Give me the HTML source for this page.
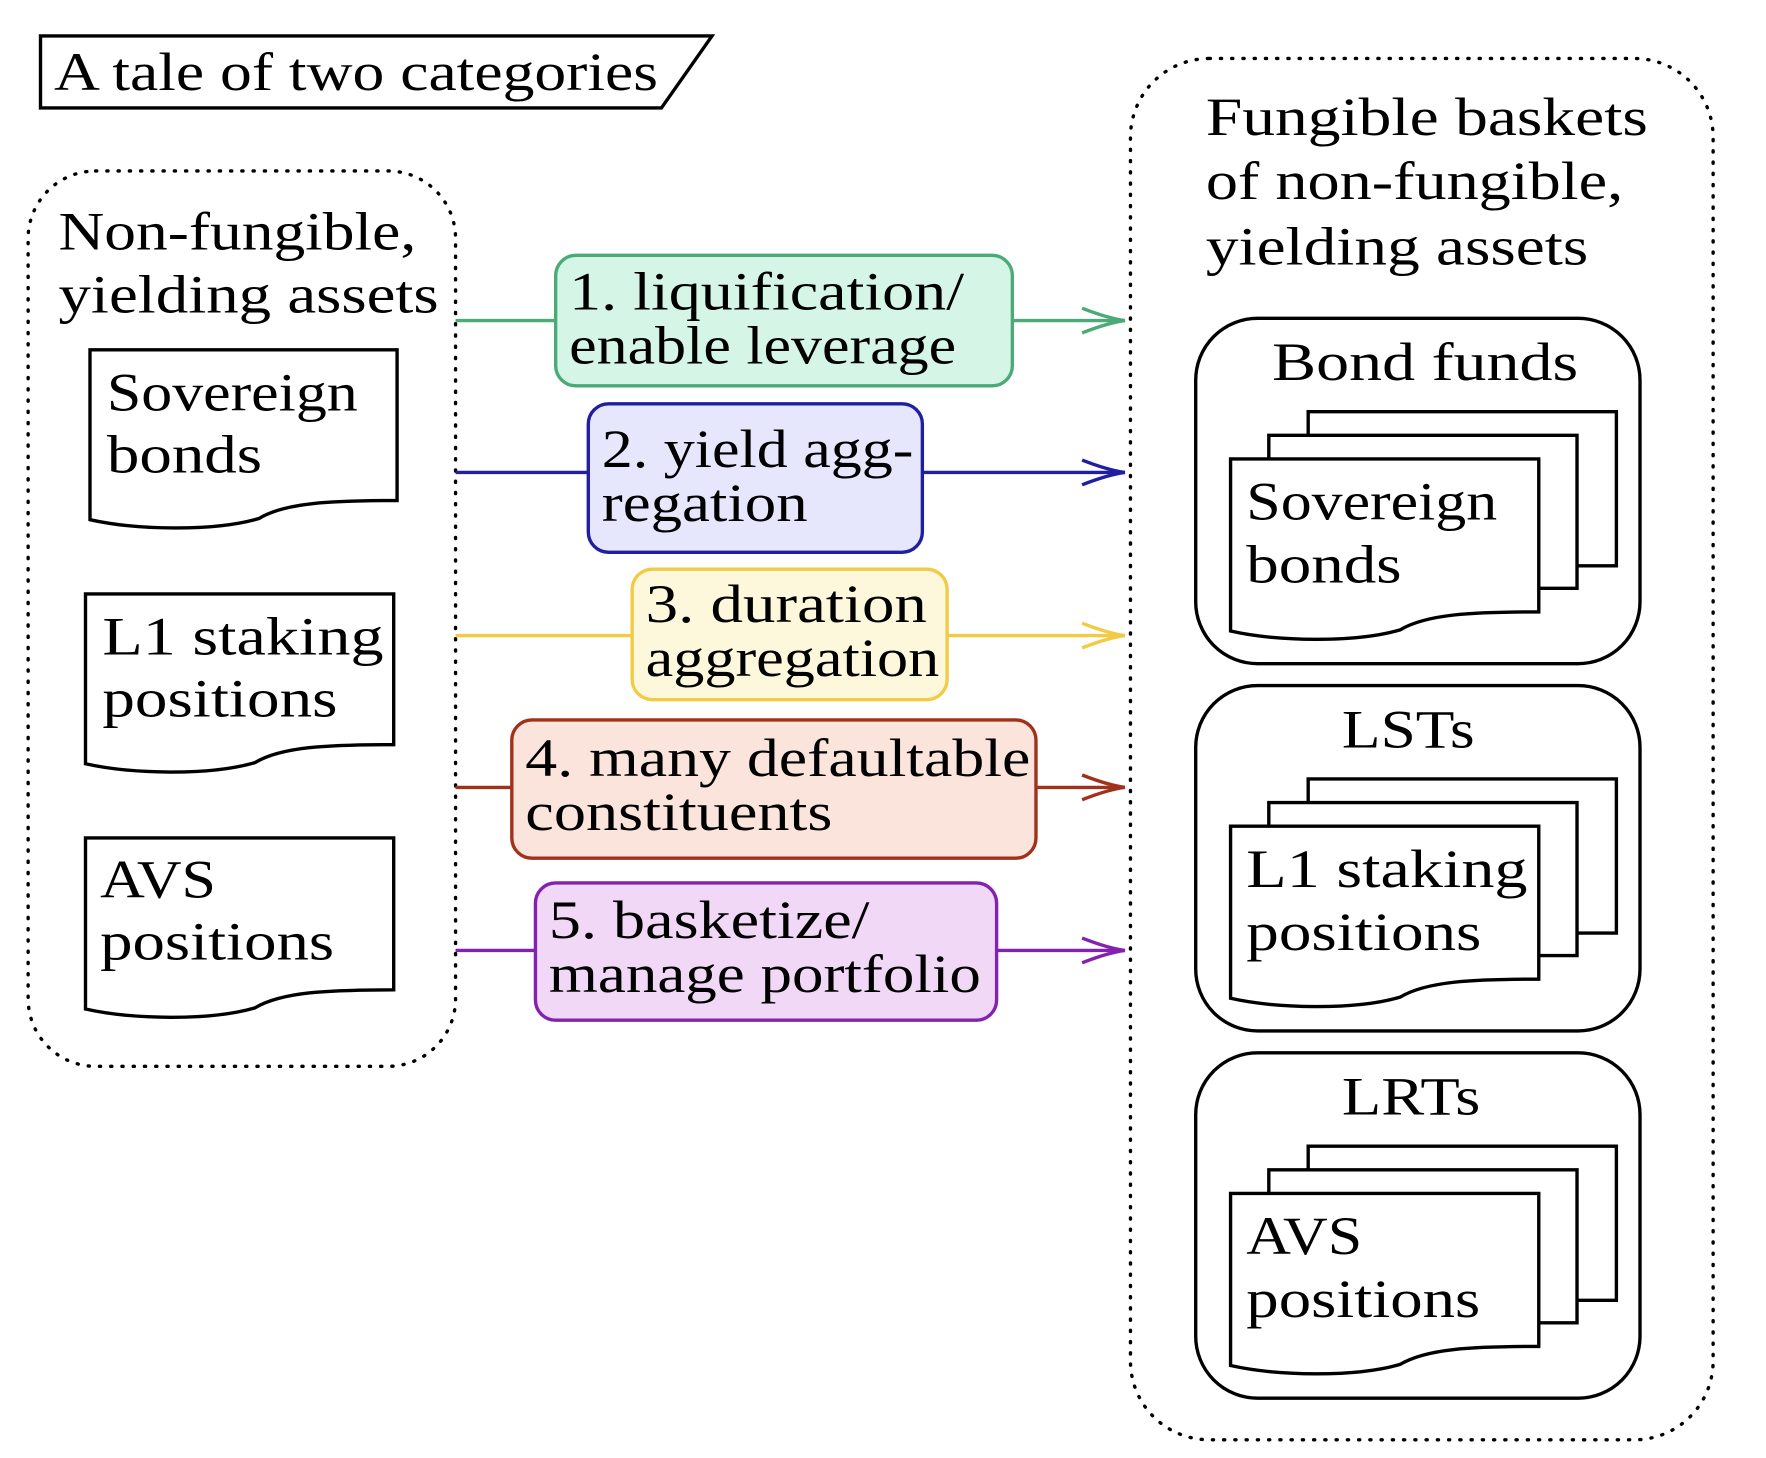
<!DOCTYPE html>
<html><head><meta charset="utf-8"><style>
html,body{margin:0;padding:0;background:#fff}
svg{display:block}
text{font-family:"Liberation Serif","DejaVu Serif",serif;font-size:48px;fill:#000}
</style></head><body>
<svg width="1766" height="1458" viewBox="0 0 1570 1296.2">
<g>
<polygon points="36,32 633,32 588,96 36,96" fill="#fff" stroke="#000" stroke-width="3"/>
<text x="48" y="80" font-size="46" textLength="537" lengthAdjust="spacingAndGlyphs">A tale of two categories</text>
</g>
<g>
<rect x="25" y="152" width="380" height="796" rx="60" fill="none" stroke="#000" stroke-width="3" stroke-dasharray="1,9" stroke-linecap="round"/>
<text x="52" y="222" textLength="318" lengthAdjust="spacingAndGlyphs">Non-fungible,</text>
<text x="52" y="278" textLength="338" lengthAdjust="spacingAndGlyphs">yielding assets</text>
</g>
<g id="leftdocs"></g>
<g>
<rect x="1005" y="52" width="518" height="1228" rx="70" fill="none" stroke="#000" stroke-width="3" stroke-dasharray="1,9" stroke-linecap="round"/>
<text x="1072" y="120" textLength="393" lengthAdjust="spacingAndGlyphs">Fungible baskets</text>
<text x="1072" y="177" textLength="371" lengthAdjust="spacingAndGlyphs">of non-fungible,</text>
<text x="1072" y="235" textLength="340" lengthAdjust="spacingAndGlyphs">yielding assets</text>
</g>
<g id="rightgroups"></g>
<g id="arrows"></g>
</svg>
<script>
const NS='http://www.w3.org/2000/svg';
function el(tag,attrs,parent,txt){const e=document.createElementNS(NS,tag);for(const k in attrs)e.setAttribute(k,attrs[k]);if(txt!==undefined)e.textContent=txt;parent.appendChild(e);return e;}
function tx(x,y,w,parent,txt){return el('text',{x:x,y:y,textLength:w,lengthAdjust:'spacingAndGlyphs'},parent,txt);}
function docPath(x,y,w,h){const b=y+h;return `M${x},${y} H${x+w} V${b} C${x+w-60},${b} ${x+w-100},${b+2} ${x+w*0.55},${b+16} C${x+w*0.4},${b+28} ${x+40},${b+26} ${x},${b+17} Z`;}
const leftLabels=[["Sovereign","bonds"],["L1 staking","positions"],["AVS","positions"]];
const labelW=[[223,138],[250,209],[103,208]];
const leftDocs=[[80,311,273,134,95,365],[76,528,274,134,91,582],[76,745,274,135,89,798]];
const LG=document.getElementById('leftdocs');
leftDocs.forEach((d,i)=>{
 const g=el('g',{},LG);
 
 
 el('path',{d:docPath(d[0],d[1],d[2],d[3]),fill:'#fff',stroke:'#000','stroke-width':3},g);
 tx(d[4],d[5],labelW[i][0],g,leftLabels[i][0]);
 tx(d[4],d[5]+55,labelW[i][1],g,leftLabels[i][1]);
});
const groupTitles=["Bond funds","LSTs","LRTs"];
const titleW=[272,118,123];
const titleX=[1131,1193,1193];
const RG=document.getElementById('rightgroups');
groupTitles.forEach((t,i)=>{
 const oy=i*326.5;
 const g=el('g',{},RG);
 
 
 el('rect',{x:1063,y:283+oy,width:395,height:307,rx:55,fill:'#fff',stroke:'#000','stroke-width':3},g);
 tx(titleX[i],338+oy,titleW[i],g,t);
 el('path',{d:`M1163,${366+oy} H1437 V${503+oy} H1163 Z`,fill:'#fff',stroke:'#000','stroke-width':3},g);
 el('path',{d:`M1128,${387+oy} H1402 V${523+oy} H1128 Z`,fill:'#fff',stroke:'#000','stroke-width':3},g);
 el('path',{d:docPath(1094,408+oy,274,136),fill:'#fff',stroke:'#000','stroke-width':3},g);
 tx(1108,462+oy,labelW[i][0],g,leftLabels[i][0]);
 tx(1108,518+oy,labelW[i][1],g,leftLabels[i][1]);
});
const arrows=[
 {y:285,c:'#4caa78',f:'#d5f5e6',b:[494,227,406,116],t:["1. liquification/","enable leverage"],w:[351,344],ty:275},
 {y:420,c:'#1f1fa0',f:'#e6e6fc',b:[523,359,297,132],t:["2. yield agg-","regation"],w:[277,183],ty:415},
 {y:565,c:'#f2cb45',f:'#fdf8dc',b:[562,506,280,116],t:["3. duration","aggregation"],w:[250,261],ty:553},
 {y:700,c:'#a0321c',f:'#fbe4dc',b:[455,640,466,123],t:["4. many defaultable","constituents"],w:[449,273],ty:690},
 {y:845,c:'#8223b0',f:'#f0d8f6',b:[476,785,410,122],t:["5. basketize/","manage portfolio"],w:[285,384],ty:834}
];
const AG=document.getElementById('arrows');
arrows.forEach((a,i)=>{
 const g=el('g',{},AG);
 
 
 el('line',{x1:405,y1:a.y,x2:1000,y2:a.y,stroke:a.c,'stroke-width':3},g);
 el('path',{d:`M962,${a.y-11} Q985,${a.y-2} 1000,${a.y} Q985,${a.y+2} 962,${a.y+11}`,fill:'none',stroke:a.c,'stroke-width':3},g);
 el('rect',{x:a.b[0],y:a.b[1],width:a.b[2],height:a.b[3],rx:18,fill:a.f,stroke:a.c,'stroke-width':3},g);
 tx(a.b[0]+12,a.ty,a.w[0],g,a.t[0]);
 tx(a.b[0]+12,a.ty+48,a.w[1],g,a.t[1]);
});
</script>
</body></html>
